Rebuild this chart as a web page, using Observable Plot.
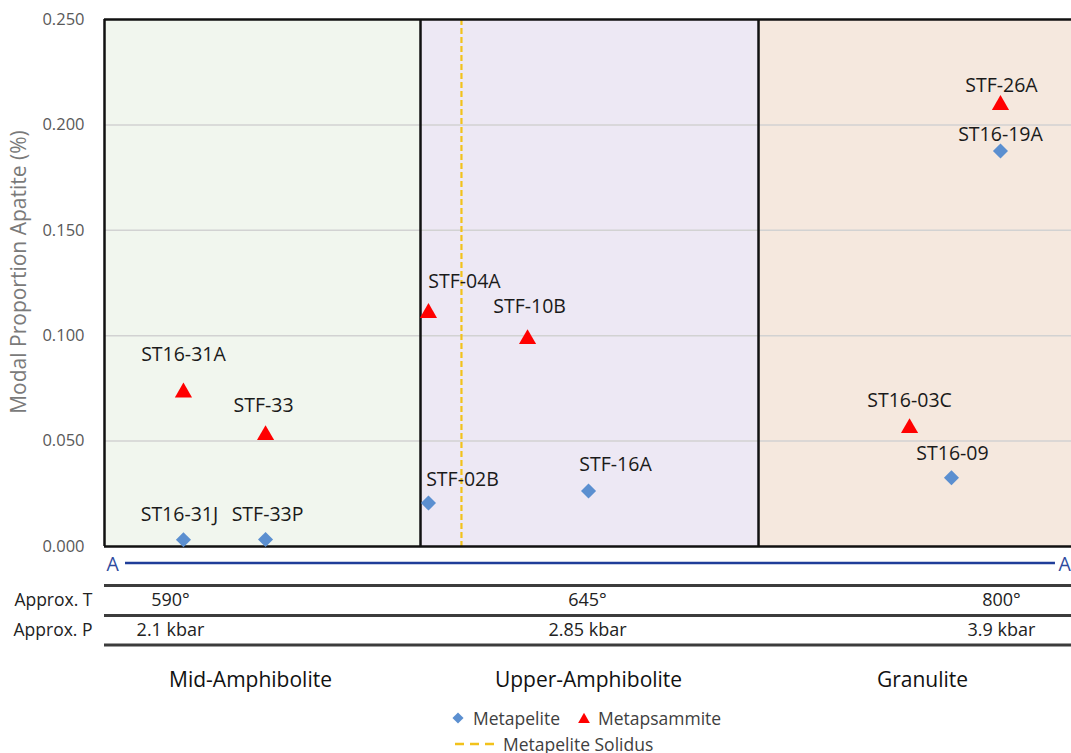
<!DOCTYPE html>
<html>
<head>
<meta charset="utf-8">
<script src="https://cdn.jsdelivr.net/npm/d3@7"></script>
<script src="https://cdn.jsdelivr.net/npm/@observablehq/plot@0.6"></script>
<style>
  html, body { margin: 0; padding: 0; background: #fff; overflow: hidden; }
  #page { position: relative; width: 1071px; height: 753px; overflow: hidden; font-family: "Open Sans", sans-serif; }
  #chart { position: absolute; left: 0; top: 0; }
  #legend { position: absolute; left: 449px; top: 705px; font-size: 17.5px; color: #404040; line-height: 26px; }
  #legend .row { display: flex; align-items: center; height: 26px; white-space: nowrap; }
  #legend svg { display: block; }
</style>
</head>
<body>
<div id="page">
  <div id="chart"></div>
  <div id="legend"></div>
</div>
<script>
// Samples along the A–A′ transect: position (0–100 along the section) and modal apatite
const samples     = ["ST16-31A", "STF-33", "ST16-31J", "STF-33P", "STF-04A", "STF-02B", "STF-10B", "STF-16A", "STF-26A", "ST16-19A", "ST16-03C", "ST16-09"];
const rockType    = ["Metapsammite", "Metapsammite", "Metapelite", "Metapelite", "Metapsammite", "Metapelite", "Metapsammite", "Metapelite", "Metapsammite", "Metapelite", "Metapsammite", "Metapelite"];
const transectPos = [8.04, 16.4, 8.04, 16.4, 32.99, 32.99, 43.08, 49.29, 91.24, 91.24, 81.98, 86.25];
const apatite     = [0.0743, 0.0541, 0.0032, 0.0033, 0.1120, 0.0206, 0.0996, 0.0263, 0.2107, 0.1876, 0.0574, 0.0326];

// Metamorphic zones along the transect
const zoneNames   = ["Mid-Amphibolite", "Upper-Amphibolite", "Granulite"];
const zoneStart   = [0, 32.18, 66.6];
const zoneEnd     = [32.18, 66.6, 100];
const zoneLabelAt = [14.87, 49.29, 83.3];

// Approximate P–T conditions per zone
const rowLabels   = ["Approx. T", "Approx. P"];
const approxT     = ["590°", "645°", "800°"];
const approxP     = ["2.1 kbar", "2.85 kbar", "3.9 kbar"];
const conditionAt = [6.72, 49.19, 91.34];

// Metapelite solidus and section ends
const solidusPos   = 36.35;
const sectionEnds  = ["A", "A′"];
const sectionEndAt = [0.2, 97.15];
const sectionLine  = [2.14, 96.84];

const yTicks = [0, 0.05, 0.1, 0.15, 0.2, 0.25];
const legendTypes = ["Metapelite", "Metapsammite"];

// ---- styling ----
const zoneFill = ["#f1f6ee", "#ede8f4", "#f5e8de"];
const marker = {
  Metapelite:   {symbol: "diamond2",  fill: "#5b8fd0", r: 6.8, dy: 0},
  Metapsammite: {symbol: "triangle2", fill: "#ff0000", r: 8.2, dy: 2.6}   // dy centres the triangle's box on its value
};
// label placement relative to each marker
const labelNudge = {
  "ST16-31A": [0, -35], "STF-33": [-2, -27], "ST16-31J": [-4, -25], "STF-33P": [2, -25],
  "STF-04A": [36, -29], "STF-02B": [34, -23], "STF-10B": [2, -30], "STF-16A": [27, -26],
  "STF-26A": [1, -17], "ST16-19A": [0, -16], "ST16-03C": [0, -25], "ST16-09": [1, -24]
};

const points = samples.map((s, i) => ({sample: s, type: rockType[i], pos: transectPos[i], apatite: apatite[i]}));
const zones = zoneNames.map((n, i) => ({name: n, x1: zoneStart[i], x2: zoneEnd[i], fill: zoneFill[i]}));

const labelFont = {fontSize: 19.5, fill: "#1a1a1a"};
const below = {frameAnchor: "bottom", lineAnchor: "middle"};

const chart = Plot.plot({
  width: 1086,
  height: 700,
  marginTop: 19,
  marginBottom: 154,
  marginLeft: 104,
  marginRight: 0,
  style: {fontFamily: "'Open Sans', sans-serif", fontSize: "16.5px", color: "#595959", background: "transparent", maxWidth: "none"},
  x: {domain: [0, 100], axis: null},
  y: {domain: [0, 0.25], ticks: yTicks, tickFormat: d3.format(".3f"), tickSize: 0, tickPadding: 20, label: null},
  color: {type: "identity"},
  marks: [
    // zone backgrounds
    Plot.rect(zones, {x1: "x1", x2: "x2", y1: () => 0, y2: () => 0.25, fill: "fill"}),
    // gridlines
    Plot.ruleY(yTicks.filter(t => t > 0 && t < 0.25), {stroke: "#d2d2d2", strokeWidth: 1.5}),
    // metapelite solidus
    Plot.ruleX([solidusPos], {stroke: "#f2c21b", strokeWidth: 2.2, strokeDasharray: "6,3"}),
    // zone borders and frame top/bottom
    Plot.ruleY([0, 0.25], {stroke: "#111", strokeWidth: 2.5}),
    Plot.ruleX(zoneStart, {stroke: "#111", strokeWidth: 2.5}),
    // samples
    ...legendTypes.map(t => Plot.dot(points.filter(d => d.type === t), {
      x: "pos", y: "apatite", symbol: marker[t].symbol, r: marker[t].r, fill: marker[t].fill, dy: marker[t].dy
    })),
    ...points.map(p => Plot.text([p], {
      x: "pos", y: "apatite", text: "sample", dx: labelNudge[p.sample][0], dy: labelNudge[p.sample][1], ...labelFont
    })),
    // y axis title
    Plot.text(["Modal Proportion Apatite (%)"], {frameAnchor: "left", textAnchor: "middle", lineAnchor: "middle", rotate: -90, dx: -85, dy: -11, fontSize: 21, fill: "#7a7a7a"}),
    // A–A′ section line
    Plot.ruleY([0], {x1: () => sectionLine[0], x2: () => sectionLine[1], dy: 16.5, stroke: "#1f3d99", strokeWidth: 2.5}),
    Plot.text(sectionEnds, {x: (d, i) => sectionEndAt[i], ...below, dy: 18, textAnchor: "start", fontSize: 19.5, fill: "#2e4a9e"}),
    // P–T table
    Plot.ruleY([0], {dy: 39, stroke: "#3c3c3c", strokeWidth: 3}),
    Plot.ruleY([0], {dy: 69, stroke: "#3c3c3c", strokeWidth: 3}),
    Plot.ruleY([0], {dy: 98.5, stroke: "#3c3c3c", strokeWidth: 3}),
    Plot.text([rowLabels[0]], {frameAnchor: "bottom-left", lineAnchor: "middle", textAnchor: "end", dx: -12, dy: 54, fontSize: 17.5, fill: "#222"}),
    Plot.text([rowLabels[1]], {frameAnchor: "bottom-left", lineAnchor: "middle", textAnchor: "end", dx: -12, dy: 84, fontSize: 17.5, fill: "#222"}),
    Plot.text(approxT, {x: (d, i) => conditionAt[i], ...below, dy: 54, fontSize: 18, fill: "#222"}),
    Plot.text(approxP, {x: (d, i) => conditionAt[i], ...below, dy: 84, fontSize: 18, fill: "#222"}),
    // zone names
    Plot.text(zoneNames, {x: (d, i) => zoneLabelAt[i], ...below, dy: 134, fontSize: 21, fill: "#111"})
  ]
});
document.getElementById("chart").appendChild(chart);

// ---- legend ----
const legend = d3.select("#legend");
const row1 = legend.append("div").attr("class", "row");
legendTypes.forEach((t, i) => {
  const m = marker[t];
  const s = row1.append("svg").attr("width", 16).attr("height", 16).style("margin-left", i ? "16px" : "1px").style("margin-right", i ? "6px" : "7px");
  const size = Math.PI * (i ? 5.6 : 5) ** 2;
  const sym = t === "Metapelite" ? d3.symbolDiamond2 : d3.symbolTriangle2;
  s.append("path").attr("transform", `translate(8,${i ? 9.5 : 8})`).attr("d", d3.symbol(sym, size)()).attr("fill", m.fill);
  row1.append("span").text(t);
});
const row2 = legend.append("div").attr("class", "row");
const ls = row2.append("svg").attr("width", 46).attr("height", 16).style("margin-left", "4px");
ls.append("line").attr("x1", 2).attr("x2", 44).attr("y1", 8).attr("y2", 8)
  .attr("stroke", "#f2c21b").attr("stroke-width", 2.5).attr("stroke-dasharray", "9,6");
row2.append("span").text("Metapelite Solidus").style("margin-left", "4px");
</script>
</body>
</html>
